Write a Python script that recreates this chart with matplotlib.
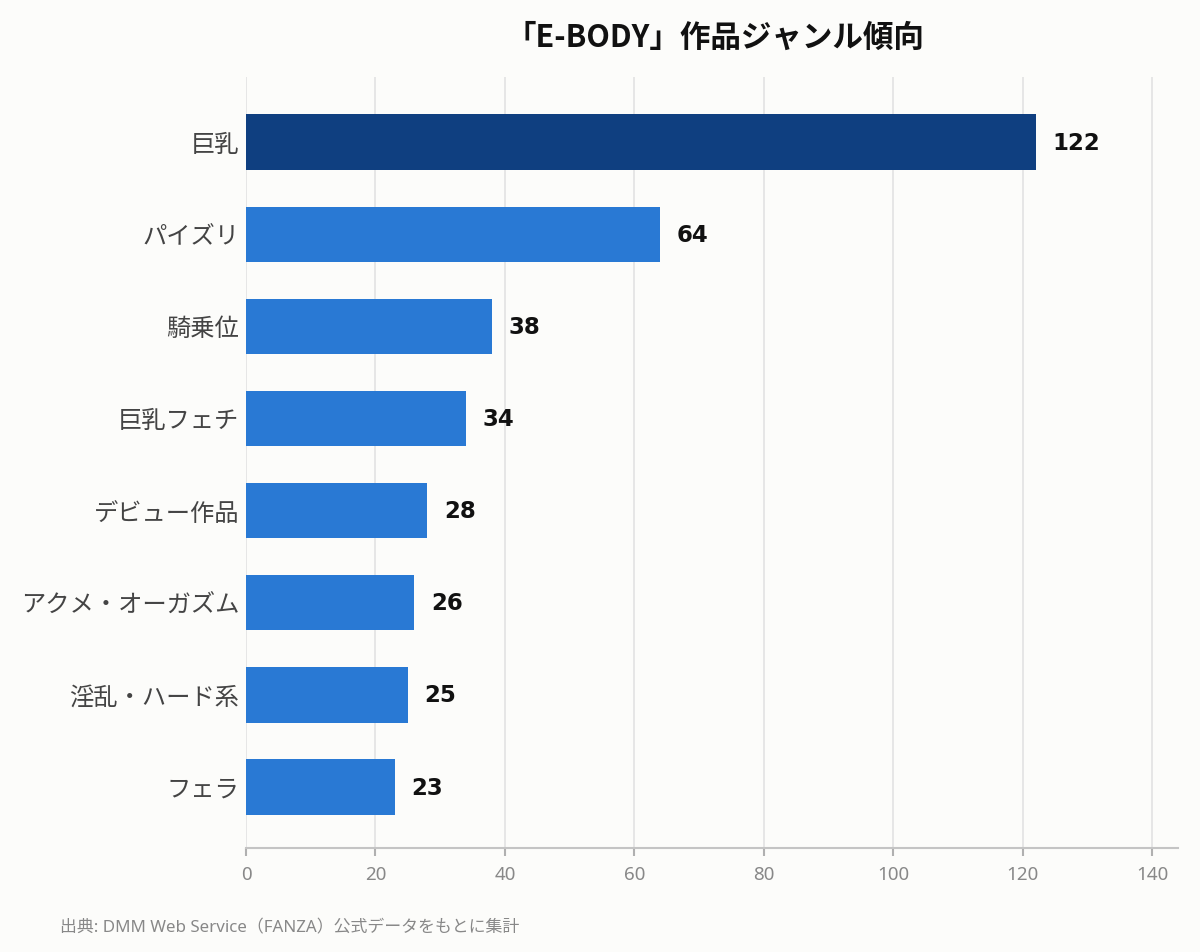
import numpy as np
import matplotlib
matplotlib.use("Agg")
import matplotlib.pyplot as plt

plt.rcParams["font.family"] = ["Noto Sans", "Noto Sans CJK JP", "DejaVu Sans"]

TITLE = "「E-BODY」作品ジャンル傾向"
SOURCE = "出典: DMM Web Service（FANZA）公式データをもとに集計"
genres = ["巨乳", "パイズリ", "騎乗位", "巨乳フェチ", "デビュー作品",
          "アクメ・オーガズム", "淫乱・ハード系", "フェラ"]
counts = [122, 64, 38, 34, 28, 26, 25, 23]
x_ticks = [0, 20, 40, 60, 80, 100, 120, 140]

BG = "#fcfcfa"
DARK = "#0f3f80"
LIGHT = "#2979d4"

fig = plt.figure(figsize=(12, 9.53), dpi=100, facecolor=BG)
ax = fig.add_axes([0.205, 0.1091, 0.7767, 0.8091], facecolor=BG)

y = np.arange(len(genres))
colors = [DARK] + [LIGHT] * (len(genres) - 1)
ax.barh(y, counts, height=0.6, color=colors, zorder=3)

# value labels just right of each bar
for yi, v in zip(y, counts):
    ax.text(v + 2.6, yi, str(v), va="center", ha="left", family="DejaVu Sans",
            fontsize=16.5, fontweight="bold", color="#111111", zorder=4)

ax.set_xlim(0, 144)
ax.set_ylim(len(genres) - 1 + 0.662, -0.706)
ax.set_yticks(y)
ax.set_yticklabels(genres, fontsize=17.5, color="#444444")
ax.set_xticks(x_ticks)
ax.set_xticklabels([str(t) for t in x_ticks], fontsize=13.5, color="#888888")

ax.grid(axis="x", color="#e2e2e2", linewidth=1.2, zorder=0)
for s in ["top", "right", "left"]:
    ax.spines[s].set_visible(False)
ax.spines["bottom"].set_color("#c4c4c4")
ax.spines["bottom"].set_linewidth(1.5)
ax.tick_params(axis="y", length=0, pad=5)
ax.tick_params(axis="x", length=6, width=1.5, color="#b0b0b0", pad=6)

fig.text(0.596, 0.9605, TITLE, ha="center", va="center",
         family=["Noto Sans CJK JP", "DejaVu Sans"],
         fontsize=22, fontweight="bold", color="#111111")
fig.text(0.05, 0.026, SOURCE, ha="left", va="center",
         fontsize=12.2, color="#888888")

fig.savefig("out.png", dpi=100, facecolor=BG)
